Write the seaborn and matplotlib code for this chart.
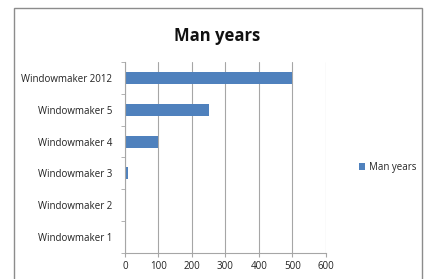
import matplotlib
matplotlib.use("Agg")
import matplotlib.pyplot as plt
import seaborn as sns
import pandas as pd
from matplotlib.patches import Rectangle, Patch

# data
versions = ["Windowmaker 2012", "Windowmaker 5", "Windowmaker 4",
            "Windowmaker 3", "Windowmaker 2", "Windowmaker 1"]
man_years = [500, 250, 100, 8, 3, 3]
x_ticks = [0, 100, 200, 300, 400, 500, 600]

df = pd.DataFrame({"version": versions, "man_years": man_years})

sns.set_style("white")
plt.rcParams["font.family"] = ["Open Sans", "DejaVu Sans"]

fig = plt.figure(figsize=(4.25, 2.79), dpi=100)
ax = fig.add_axes([0.294, 0.093, 0.473, 0.685])

bar_color = "#4F81BD"
sns.barplot(data=df, y="version", x="man_years", orient="h", color=bar_color,
            width=0.38, saturation=1, ax=ax, order=versions, linewidth=0)

ax.set_xlim(0, 600)
ax.set_xticks(x_ticks)
ax.set_ylim(len(versions) - 0.5, -0.5)
ax.set_xlabel("")
ax.set_ylabel("")
ax.grid(axis="x", color="#a6a6a6", linewidth=0.8)
ax.set_axisbelow(True)
for s in ["top", "right"]:
    ax.spines[s].set_visible(False)
for s in ["left", "bottom"]:
    ax.spines[s].set_color("#a6a6a6")
    ax.spines[s].set_linewidth(0.8)

# category boundary ticks on the y axis
ax.set_yticks(range(len(versions)))
ax.set_yticklabels(versions)
ax.set_yticks([i - 0.5 for i in range(len(versions) + 1)], minor=True)
ax.tick_params(axis="y", which="major", length=0, pad=9, labelsize=7, colors="#222222")
ax.tick_params(axis="y", which="minor", length=3, color="#a6a6a6", direction="out", left=True)
ax.tick_params(axis="x", length=3, color="#a6a6a6", direction="out", bottom=True,
               labelsize=7, colors="#222222", pad=3)

fig.text(0.51, 0.872, "Man years", ha="center", va="center",
         fontsize=12, fontweight="bold", color="#111111")

handle = Patch(facecolor=bar_color, edgecolor="none")
fig.legend([handle], ["Man years"], loc="center left", bbox_to_anchor=(0.825, 0.4),
           frameon=False, fontsize=7, handlelength=0.6, handleheight=0.6,
           handletextpad=0.4)

# outer chart border
fig.patches.append(Rectangle((0.033, -0.05), 0.96, 1.02, transform=fig.transFigure,
                             fill=False, edgecolor="#8c8c8c", linewidth=1.0))

fig.savefig("out.png", dpi=100)
